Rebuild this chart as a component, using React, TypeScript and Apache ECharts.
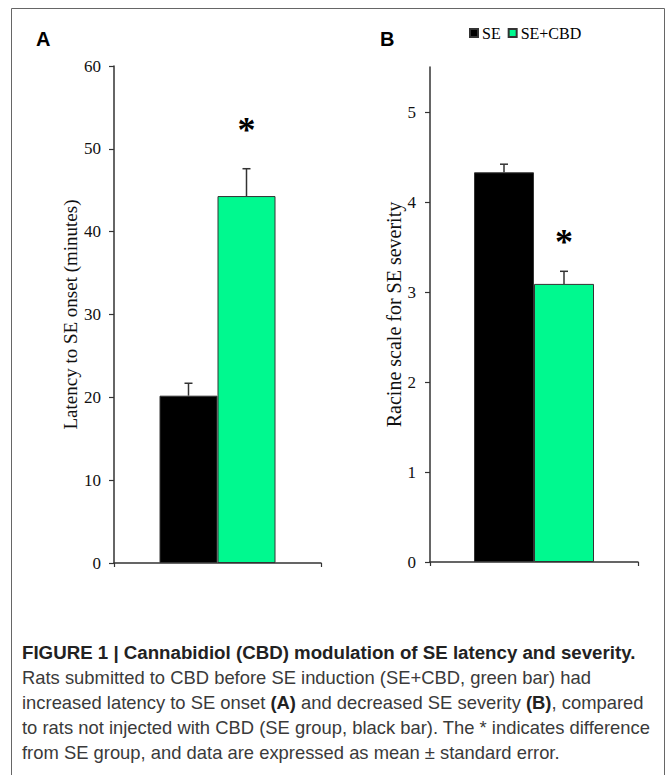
import React, { useEffect, useRef } from "react";
import * as echarts from "echarts";

// ---------- data ----------
const groups = [""]; // one group per panel
const seriesNames = ["SE", "SE+CBD"];

// Panel A: latency to SE onset (minutes), mean and SEM
const latencyMean = [20.2, 44.3];
const latencySem = [1.5, 3.3];
const latencyStarAt = [52.3]; // height of the "*" mark above SE+CBD

// Panel B: Racine scale, mean and SEM
const racineMean = [4.33, 3.09];
const racineSem = [0.09, 0.14];
const racineStarAt = [3.56];

const latencyTicks = [0, 10, 20, 30, 40, 50, 60];
const racineTicks = [0, 1, 2, 3, 4, 5];

const captionLines = [
  "{h|FIGURE 1 | Cannabidiol (CBD) modulation of SE latency and severity.}",
  "Rats submitted to CBD before SE induction (SE+CBD, green bar) had",
  "increased latency to SE onset {b|(A)} and decreased SE severity {b|(B)}, compared",
  "to rats not injected with CBD (SE group, black bar). The * indicates difference",
  "from SE group, and data are expressed as mean \u00b1 standard error.",
];

const GREEN = "#00F98F";
const AXIS = "#333";
const SERIF = "'Liberation Serif', 'Times New Roman', serif";
const SANS = "'Liberation Sans', Arial, sans-serif";

function errSeries(mean: number, sem: number, side: number, half: number, gi: number) {
  return {
    type: "custom",
    xAxisIndex: gi,
    yAxisIndex: gi,
    z: 5,
    silent: true,
    data: [[0, mean, sem]],
    renderItem: (params: any, api: any) => {
      const m = api.value(1);
      const s = api.value(2);
      const base = api.coord([0, m]);
      const top = api.coord([0, m + s]);
      const x = base[0] + side * half;
      return {
        type: "group",
        children: [
          {
            type: "line",
            shape: { x1: x, y1: base[1], x2: x, y2: top[1] },
            style: { stroke: AXIS, lineWidth: 1.5 },
          },
          {
            type: "line",
            shape: { x1: x - 4, y1: top[1], x2: x + 4, y2: top[1] },
            style: { stroke: AXIS, lineWidth: 1.5 },
          },
        ],
      };
    },
  };
}

function starSeries(at: number, half: number, gi: number) {
  return {
    type: "custom",
    xAxisIndex: gi,
    yAxisIndex: gi,
    z: 6,
    silent: true,
    data: [[0, at]],
    renderItem: (params: any, api: any) => {
      const p = api.coord([0, api.value(1)]);
      return {
        type: "text",
        x: p[0] + half,
        y: p[1],
        style: {
          text: "*",
          fontSize: 36,
          fontFamily: SERIF,
          fontWeight: "bold",
          textAlign: "center",
          textVerticalAlign: "middle",
          fill: "#000",
        },
      };
    },
  };
}

function barPair(means: number[], width: number, gi: number) {
  return seriesNames.map((name, i) => ({
    name,
    type: "bar",
    xAxisIndex: gi,
    yAxisIndex: gi,
    barWidth: width,
    barGap: "0%",
    data: [means[i]],
    itemStyle: {
      color: i === 0 ? "#000" : GREEN,
      borderColor: AXIS,
      borderWidth: 1,
    },
  }));
}

export default function App() {
  const ref = useRef<HTMLDivElement>(null);
  useEffect(() => {
    if (!ref.current) return;
    const chart = echarts.init(ref.current, undefined, { renderer: "svg" });
    const wA = 58;
    const wB = 60;
    const yAxisCommon = {
      type: "value",
      nameLocation: "middle",
      nameRotate: 90,
      splitLine: { show: false },
      axisLine: { show: true, lineStyle: { color: AXIS, width: 1.5 } },
      axisTick: { show: true, length: 5, lineStyle: { color: AXIS, width: 1.2 } },
    };
    chart.setOption({
      animation: false,
      backgroundColor: "#fff",
      legend: {
        data: seriesNames,
        left: 469,
        top: 25,
        icon: "rect",
        itemWidth: 8,
        itemHeight: 8,
        itemGap: 7,
        padding: 0,
        textStyle: { fontFamily: SERIF, fontSize: 16, color: "#000", padding: [0, 0, 0, -1] },
        selectedMode: false,
      },
      grid: [
        { left: 114, top: 66, width: 207, height: 497 },
        { left: 430, top: 67, width: 208, height: 495 },
      ],
      xAxis: [0, 1].map((gi) => ({
        type: "category",
        gridIndex: gi,
        data: groups,
        axisLine: { lineStyle: { color: AXIS, width: 1.5 } },
        axisTick: { show: true, length: 4, lineStyle: { color: AXIS, width: 1.2 } },
        axisLabel: { show: false },
      })),
      yAxis: [
        {
          ...yAxisCommon,
          gridIndex: 0,
          min: 0,
          max: 60,
          interval: 10,
          name: "Latency to SE onset (minutes)",
          nameGap: 33,
          nameTextStyle: { fontFamily: SERIF, fontSize: 19, color: "#111" },
          axisTick: { ...yAxisCommon.axisTick, customValues: latencyTicks },
          axisLabel: {
            customValues: latencyTicks,
            margin: 13,
            fontFamily: SERIF,
            fontSize: 17,
            color: "#111",
          },
        },
        {
          ...yAxisCommon,
          gridIndex: 1,
          min: 0,
          max: 5.5,
          interval: 1,
          name: "Racine scale for SE severity",
          nameGap: 20,
          nameTextStyle: { fontFamily: SERIF, fontSize: 20, color: "#111" },
          axisTick: { ...yAxisCommon.axisTick, customValues: racineTicks },
          axisLabel: {
            customValues: racineTicks,
            margin: 14,
            fontFamily: SERIF,
            fontSize: 17,
            color: "#111",
          },
        },
      ],
      series: [
        ...barPair(latencyMean, wA, 0),
        ...barPair(racineMean, wB, 1),
        errSeries(latencyMean[0], latencySem[0], -1, wA / 2, 0),
        errSeries(latencyMean[1], latencySem[1], 1, wA / 2, 0),
        errSeries(racineMean[0], racineSem[0], -1, wB / 2, 1),
        errSeries(racineMean[1], racineSem[1], 1, wB / 2, 1),
        starSeries(latencyStarAt[0], wA / 2, 0),
        starSeries(racineStarAt[0], wB / 2, 1),
      ],
      graphic: [
        {
          type: "rect",
          shape: { x: 11.5, y: 8.5, width: 653, height: 820 },
          style: { fill: "none", stroke: "#666", lineWidth: 1 },
          silent: true,
        },
        {
          type: "text",
          x: 36,
          y: 39,
          style: {
            text: "A",
            fontFamily: SANS,
            fontWeight: "bold",
            fontSize: 20,
            fill: "#000",
            textVerticalAlign: "middle",
          },
        },
        {
          type: "text",
          x: 380,
          y: 39,
          style: {
            text: "B",
            fontFamily: SANS,
            fontWeight: "bold",
            fontSize: 20,
            fill: "#000",
            textVerticalAlign: "middle",
          },
        },
        ...captionLines.map((line, i) => ({
          type: "text",
          x: 22,
          y: 652 + i * 25,
          style: {
            text: line,
            fontFamily: SANS,
            fontSize: 18.4,
            fill: "#3a3a3a",
            textVerticalAlign: "middle",
            rich: {
              h: { fontFamily: SANS, fontSize: 18.7, fontWeight: "bold", fill: "#222" },
              b: { fontFamily: SANS, fontSize: 18.4, fontWeight: "bold", fill: "#222" },
            },
          },
        })),
      ],
    });
    return () => chart.dispose();
  }, []);
  return (
    <div
      ref={ref}
      style={{ position: "absolute", left: 0, top: 0, width: 670, height: 775 }}
    />
  );
}
